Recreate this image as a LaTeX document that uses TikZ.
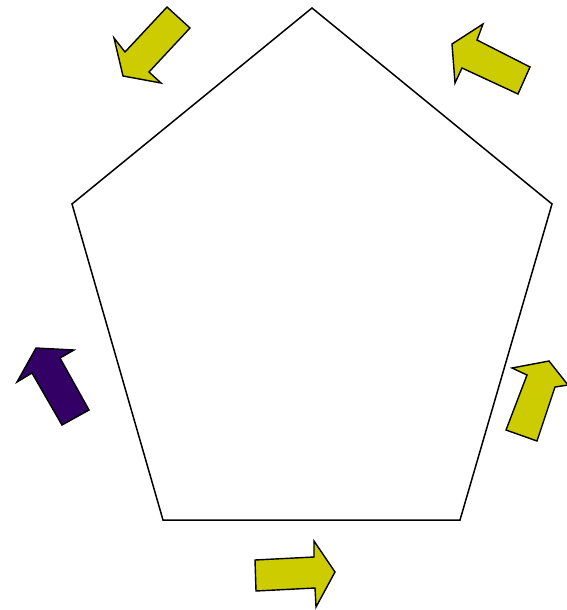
\documentclass[tikz,border=0pt]{standalone}
\usepackage{xcolor}
\definecolor{olivey}{HTML}{CCCC00}
\definecolor{indigo}{HTML}{330066}
\usetikzlibrary{calc}
\tikzset{
  pentline/.style={draw=black,line width=1.5pt,line join=miter},
  yarrow/.style  ={draw=black,fill=olivey,line width=1.4pt,line join=miter},
  parrow/.style  ={draw=black,fill=indigo,line width=1.4pt,line join=miter},
}

\begin{document}
\begin{tikzpicture}[x=1pt,y=-1pt]
\useasboundingbox (0,0) rectangle (567,610);
% pentagon corners
\coordinate (top) at (312,8);
\coordinate (rt)  at (552,204);
\coordinate (br)  at (460,520);
\coordinate (bl)  at (163,520);
\coordinate (lt)  at (72,204);
\draw[pentline] (top) -- (rt) -- (br) -- (bl) -- (lt) -- cycle;

%================= block arrows round the pentagon
% top left, pointing down-left
\draw[yarrow] (167,7) -- (190,28) -- (149,72) -- (161,83) -- (123,76)
  -- (114,38) -- (125,52) -- cycle;
% top right, pointing up-left
\draw[yarrow] (530,67) -- (518,94) -- (462,68) -- (455,83) -- (452,44)
  -- (483,24) -- (477,40) -- cycle;
% left, pointing up (purple)
\draw[parrow] (89,410) -- (62,425) -- (32,373) -- (17,382) -- (36,348)
  -- (74,350) -- (60,358) -- cycle;
% right, pointing up
\draw[yarrow] (537,441) -- (506,430) -- (527,375) -- (512,368) -- (549,361)
  -- (568,385) -- (555,387) -- cycle;
% bottom, pointing right
\draw[yarrow] (255,560) -- (314,557) -- (314,541) -- (335,572) -- (316,607)
  -- (315,588) -- (256,591) -- cycle;
\end{tikzpicture}
\end{document}
